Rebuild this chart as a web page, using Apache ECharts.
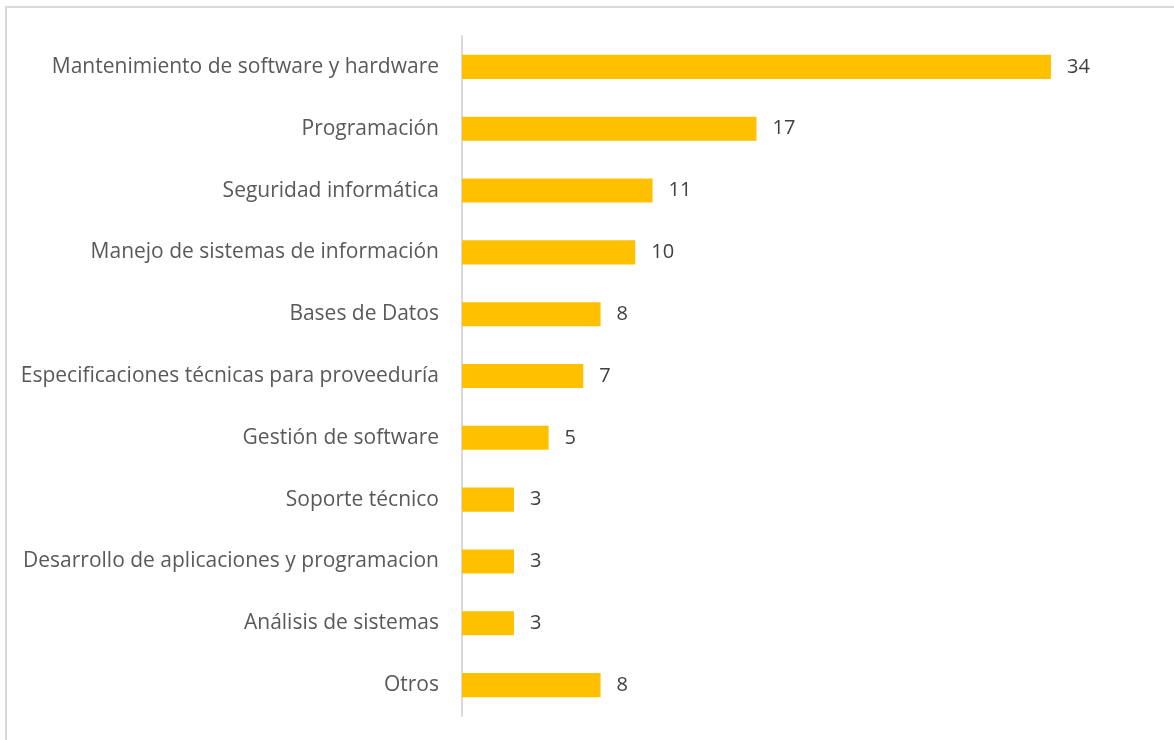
<!DOCTYPE html>
<html>
<head>
<meta charset="utf-8">
<script src="https://cdn.jsdelivr.net/npm/echarts@6/dist/echarts.min.js"></script>
<style>
  html, body { margin: 0; padding: 0; background: #fff; overflow: hidden; }
  #frame { position: absolute; left: 5px; top: 6px; width: 1200px; height: 760px; border: 2px solid #d9d9d9; box-sizing: border-box; }
  #main { position: absolute; left: 0; top: 0; width: 1174px; height: 740px; }
</style>
</head>
<body>
<div id="frame"></div>
<div id="main"></div>
<script>
// categories top to bottom
var categories = [
    'Mantenimiento de software y hardware',
    'Programación',
    'Seguridad informática',
    'Manejo de sistemas de información',
    'Bases de Datos',
    'Especificaciones técnicas para proveeduría',
    'Gestión de software',
    'Soporte técnico',
    'Desarrollo de aplicaciones y programacion',
    'Análisis de sistemas',
    'Otros'
];
var values = [34, 17, 11, 10, 8, 7, 5, 3, 3, 3, 8];

var chart = echarts.init(document.getElementById('main'));
chart.setOption({
    animation: false,
    grid: {
        left: 462,
        top: 36,
        width: 589,
        height: 680,
        containLabel: false
    },
    xAxis: {
        type: 'value',
        min: 0,
        max: 34,
        show: false
    },
    yAxis: {
        type: 'category',
        inverse: true,
        data: categories,
        axisLine: { show: true, lineStyle: { color: '#d9d9d9', width: 2 } },
        axisTick: { show: false },
        axisLabel: {
            margin: 23,
            color: '#595959',
            fontFamily: 'Open Sans',
            fontSize: 21,
            padding: [4, 0, 0, 0]
        }
    },
    series: [{
        type: 'bar',
        data: values,
        barWidth: '39%',
        itemStyle: { color: '#ffc000' },
        label: {
            show: true,
            position: 'right',
            distance: 16,
            color: '#404040',
            fontFamily: 'Open Sans',
            fontSize: 20,
            padding: [4, 0, 0, 0]
        }
    }]
});
</script>
</body>
</html>
